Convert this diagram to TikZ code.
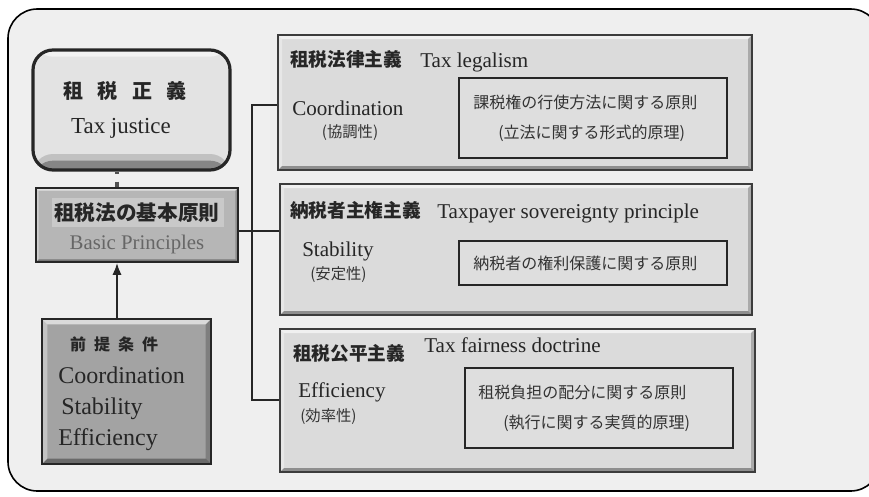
\documentclass[tikz,border=0pt]{standalone}
\usepackage{fontspec}
\setmainfont{Liberation Serif}
\newfontfamily\jp{Noto Sans CJK JP}
\usetikzlibrary{fit,arrows.meta,calc}
\definecolor{bg}{HTML}{EFEFEF}
\definecolor{rfill}{HTML}{DBDBDB}
\definecolor{ifill}{HTML}{DEDEDE}
\definecolor{tjfill}{HTML}{E3E3E3}
\definecolor{bpfill}{HTML}{B6B6B6}
\definecolor{bphl}{HTML}{C9C9C9}
\definecolor{prfill}{HTML}{A3A3A3}
\definecolor{dark}{HTML}{262626}
\definecolor{jtext}{HTML}{333333}
\definecolor{gtext}{HTML}{666666}
\tikzset{
  bevel/.style={path picture={
    \path (path picture bounding box.north west) coordinate (pA)
          (path picture bounding box.north east) coordinate (pB)
          (path picture bounding box.south east) coordinate (pC)
          (path picture bounding box.south west) coordinate (pD);
    \fill[white,opacity=.6] (pA) -- (pB) -- ([shift={(-#1,-#1)}]pB) -- ([shift={(#1,-#1)}]pA) -- cycle;
    \fill[white,opacity=.35] (pA) -- ([shift={(#1,-#1)}]pA) -- ([shift={(#1,#1)}]pD) -- (pD) -- cycle;
    \fill[black,opacity=.35] (pD) -- (pC) -- ([shift={(-#1,#1)}]pC) -- ([shift={(#1,#1)}]pD) -- cycle;
    \fill[black,opacity=.22] (pB) -- ([shift={(-#1,-#1)}]pB) -- ([shift={(-#1,#1)}]pC) -- (pC) -- cycle;
  }},
  rbox/.style={draw=dark!90, line width=1.1pt, fill=rfill, bevel=3pt},
  ibox/.style={draw=dark, line width=0.8pt, fill=ifill},
  tjbox/.style={draw=dark, line width=2.4pt, fill=tjfill, rounded corners=15pt,
    path picture={
      \fill[white,opacity=.55] (path picture bounding box.north west) rectangle ([yshift=-5pt]path picture bounding box.north east);
      \fill[black,opacity=.30] ([yshift=7pt]path picture bounding box.south west) rectangle (path picture bounding box.south east);
      \fill[black,opacity=.15] ([yshift=12pt]path picture bounding box.south west) rectangle (path picture bounding box.south east);
    }},
  bpbox/.style={draw=dark, line width=1.3pt, fill=bpfill, bevel=2pt},
  prbox/.style={draw=dark, line width=2.2pt, fill=prfill, bevel=4pt},
  conn/.style={draw=dark, line width=1.6pt},
  jh/.style={font=\jp\bfseries\fontsize{14pt}{16pt}\selectfont, text=dark},
  jk/.style={font=\jp\fontsize{11.5pt}{13pt}\selectfont, text=jtext},
  ji/.style={font=\jp\fontsize{12pt}{14pt}\selectfont, text=jtext},
  en/.style={font=\fontsize{15.8pt}{18pt}\selectfont, text=dark},
  pe/.style={font=\fontsize{18pt}{20pt}\selectfont, text=dark},
}
\begin{document}
\begin{tikzpicture}[x=0.75pt,y=-0.75pt, every node/.style={inner sep=0pt}]
\useasboundingbox (0,0) rectangle (869,497);
% frame
\draw[line width=1.2pt, fill=bg, rounded corners=22pt] (8,9) rectangle (880,491);

% left column boxes
\node[tjbox, fit={(33,50) (230,170)}] (tj) {};
\node[bpbox, fit={(36,188) (238,262)}] (bp) {};
\node[prbox, fit={(42,319) (211,464)}] (pr) {};
\fill[bphl] (52,198) rectangle (224,227);

% right boxes
\node[rbox, fit={(278,35) (752,170)}] (r1) {};
\node[rbox, fit={(280,184) (752,315)}] (r2) {};
\node[rbox, fit={(280,329) (755,472)}] (r3) {};
\node[ibox, fit={(459,78) (727,158)}] (i1) {};
\node[ibox, fit={(459,241) (727,285)}] (i2) {};
\node[ibox, fit={(465,368) (733,448)}] (i3) {};

% connectors
\coordinate (ax) at (117,0);
\coordinate (jt) at (252,105);
\coordinate (jm) at (252,231);
\coordinate (jb) at (252,400);
\draw[conn] (r1.west |- jt) -- (jt) -- (jb) -- (r3.west |- jb);
\draw[conn] (bp.east |- jm) -- (r2.west |- jm);
\draw[draw=dark!80, line width=2.6pt, dash pattern={on 1.5pt off 6pt on 7pt off 6pt}] (tj.south -| ax) -- (bp.north -| ax);
\draw[draw=dark, line width=1.5pt, -{Latex[length=9pt,width=7pt]}] (pr.north -| ax) -- (bp.south -| ax);

% texts left
\node[font=\jp\bfseries\fontsize{15pt}{17pt}\selectfont, text=dark] (tjj) at (125,91) {租\kern11pt 税\kern11pt 正\kern11pt 義};
\node[font=\fontsize{17.2pt}{19pt}\selectfont, text=dark] (tje) at (121,128) {Tax justice};
\node[font=\jp\bfseries\fontsize{15.5pt}{17pt}\selectfont, text=dark] (bpj) at (137,213) {租税法の基本原則};
\node[font=\fontsize{15.6pt}{17pt}\selectfont, text=gtext] (bpe) at (137,244) {Basic Principles};
\node[font=\jp\bfseries\fontsize{12pt}{14pt}\selectfont, text=dark] (prj) at (114,344) {前\kern6pt 提\kern6pt 条\kern6pt 件};
\node[pe, anchor=base west] (pr1) at (58,383) {Coordination};
\node[pe, anchor=base west] (pr2) at (61,414) {Stability};
\node[pe, anchor=base west] (pr3) at (58,445) {Efficiency};

% texts box 1
\node[jh, anchor=west] (r1h) at (290,59) {租税法律主義};
\node[en, anchor=base west] (r1e) at (420,67) {Tax legalism};
\node[en, anchor=west] (r1c) at (292,108) {Coordination};
\node[jk] (r1k) at (350,133) {(協調性)};
\node[ji, anchor=west] (i1a) at (473,102) {課税権の行使方法に関する原則};
\node[ji, anchor=west] (i1b) at (498,133) {(立法に関する形式的原理)};

% texts box 2
\node[jh, anchor=west] (r2h) at (290,210) {納税者主権主義};
\node[en, anchor=base west] (r2e) at (437,218) {Taxpayer sovereignty principle};
\node[en, anchor=west] (r2c) at (302,251) {Stability};
\node[jk, anchor=west] (r2k) at (310,275) {(安定性)};
\node[ji, anchor=west] (i2a) at (473,263) {納税者の権利保護に関する原則};

% texts box 3
\node[jh, anchor=west] (r3h) at (293,353) {租税公平主義};
\node[en, anchor=base west] (r3e) at (424,352) {Tax fairness doctrine};
\node[en, anchor=west] (r3c) at (298,392) {Efficiency};
\node[jk, anchor=west] (r3k) at (300,417) {(効率性)};
\node[ji, anchor=west] (i3a) at (478,392) {租税負担の配分に関する原則};
\node[ji, anchor=west] (i3b) at (503,423) {(執行に関する実質的原理)};
\end{tikzpicture}
\end{document}
